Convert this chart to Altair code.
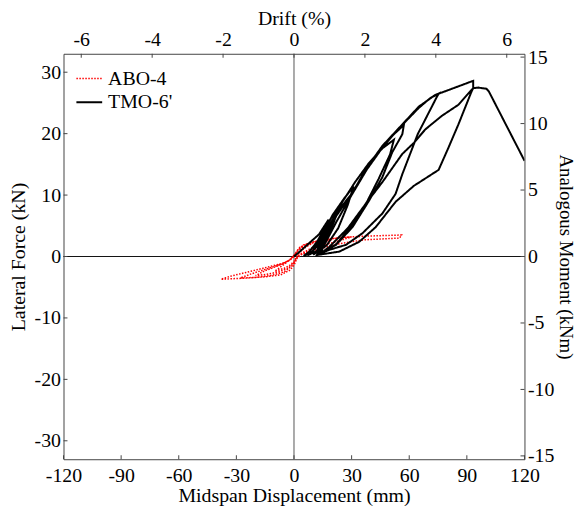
import altair as alt
import pandas as pd

# ---------------- data ----------------
series_names = ["ABO-4", "TMO-6'"]

abo_disp = [0, 2, 5, 10, 7, 4, 2, 0, -2, -5, -10, -7, -4, -2, 0,
            2, 5, 10, 15, 20, 15, 10, 5, 2, 0, -3, -8, -14, -20, -15, -9, -4, -1, 1,
            3, 8, 14, 22, 30, 24, 16, 9, 4, 1, -1, -5, -12, -20, -28, -22, -14, -6, -2, 0,
            2, 5, 13, 25, 36, 46, 56, 55, 45, 36, 22, 12, 5, 2, 0, -2, -7, -15, -24, -38,
            -33, -25, -16, -6, -2, 0]
abo_force = [0, 0.9, 1.6, 2.2, 1.7, 1.0, 0.3, -0.8, -1.4, -1.9, -2.4, -1.7, -1.0, -0.5, 0.2,
             1.1, 1.8, 2.3, 2.6, 2.8, 2.2, 1.5, 0.7, 0.1, -1.0, -1.9, -2.5, -2.9, -3.1, -2.3, -1.6, -0.9, -0.2, 0.6,
             1.5, 2.2, 2.7, 3.0, 3.2, 2.6, 1.9, 1.1, 0.4, -0.5, -1.5, -2.5, -3.1, -3.4, -3.5, -2.8, -2.0, -1.2, -0.5, 0.2,
             1.0, 1.9, 2.6, 3.1, 3.3, 3.4, 3.5, 3.0, 2.85, 2.7, 2.0, 1.1, 0.5, 0.0, -1.4, -2.2, -3.0, -3.3, -3.5, -3.7,
             -3.2, -2.6, -1.9, -1.1, -0.6, 0]

tmo_disp = [0, 3, 8, 13, 18, 16, 13, 9, 5,
            8, 12, 16, 20, 23, 21, 17, 12, 7,
            10, 15, 20, 26, 31, 28, 23, 17, 10,
            12, 18, 25, 32, 39, 46, 52, 50, 44, 38, 30, 22, 14,
            15, 22, 30, 38, 46, 52, 57.2, 56.4, 51.2, 46, 39.1, 30.5, 21.9, 13.3,
            15, 22, 30, 38, 46, 56, 65, 71, 75.3, 74.4, 64.4, 56.4, 52.9, 46, 35.7, 27.1, 18.5, 12,
            14, 21.9, 30.5, 37.4, 46, 56.4, 65, 73.5, 77, 82.2, 87.3, 93.3,
            93.3, 92.5, 85.6, 80.4, 75.3, 62.4, 52.9, 42.6, 34, 23.6, 13.2,
            18.5, 28, 37.4, 46, 56.4, 62.4, 68.4, 77, 85.6, 90.4, 93.3, 95.9, 100.2, 101.4, 120]
tmo_force = [0, 0.8, 2.2, 3.6, 6.0, 4.2, 2.0, 0.6, 0.1,
             0.8, 2.4, 4.6, 6.6, 8.0, 5.8, 3.0, 0.9, 0.2,
             1.0, 3.6, 6.7, 9.4, 11.4, 8.4, 4.6, 1.8, 0.3,
             1.0, 4.8, 8.8, 12.2, 15.2, 17.6, 19.0, 16.6, 12.6, 8.9, 5.0, 2.0, 0.5,
             1.4, 5.6, 10.0, 14.2, 17.7, 19.9, 21.4, 19.9, 17.0, 12.9, 9.1, 4.8, 1.9, 0.5,
             1.6, 6.6, 10.2, 14.4, 17.9, 21.3, 24.2, 25.8, 26.5, 26.0, 19.9, 13.4, 10.2, 7.0, 3.8, 1.9, 1.1, 0.3,
             1.5, 7.0, 10.4, 14.2, 18.0, 21.5, 24.4, 26.3, 26.7, 27.3, 27.9, 28.6,
             27.4, 26.9, 21.5, 17.7, 14.1, 11.5, 8.9, 4.8, 2.4, 0.8, 0.3,
             1.6, 4.6, 8.6, 12.1, 16.7, 18.5, 20.7, 22.9, 24.7, 26.4, 27.4, 27.5, 27.3, 26.9, 15.6]

disp_ticks = [-120, -90, -60, -30, 0, 30, 60, 90, 120]
force_ticks = [-30, -20, -10, 0, 10, 20, 30]
drift_ticks = [-6, -4, -2, 0, 2, 4, 6]
moment_ticks = [-15, -10, -5, 0, 5, 10, 15]

# ---------------- layout ----------------
W, H = 465, 409
FONT = "'Liberation Serif', 'Times New Roman', 'DejaVu Serif', serif"
FS = 20
FRAME = "#444444"
LBL = "'' + datum.value"

rows = []
for i, (d, f) in enumerate(zip(abo_disp, abo_force)):
    rows.append({"s": series_names[0], "i": i, "d": d, "f": f})
for i, (d, f) in enumerate(zip(tmo_disp, tmo_force)):
    rows.append({"s": series_names[1], "i": i, "d": d, "f": f})
df = pd.DataFrame(rows)

xs = alt.Scale(domain=[-120, 120], nice=False, zero=False)
ys = alt.Scale(domain=[-33, 33], nice=False, zero=False)
xs2 = alt.Scale(domain=[-6.5, 6.5], nice=False, zero=False)
ys2 = alt.Scale(domain=[-15.25, 15.25], nice=False, zero=False)

base_axis = dict(labelFont=FONT, labelFontSize=FS, labelColor="black",
                 titleFont=FONT, titleFontWeight="normal",
                 titleColor="black", ticks=False, tickSize=0, domain=False,
                 grid=False, labelFlush=False, labelOverlap=False, labelExpr=LBL)

x_axis = alt.Axis(orient="bottom", values=disp_ticks, labelPadding=6, titlePadding=1,
                  titleFontSize=FS, title="Midspan Displacement (mm)", **base_axis)
y_axis = alt.Axis(orient="left", values=force_ticks, labelPadding=3, titlePadding=6,
                  titleFontSize=FS, title="Lateral Force (kN)", **base_axis)
x2_axis = alt.Axis(orient="top", values=drift_ticks, labelPadding=4, titlePadding=2,
                   titleFontSize=FS, title="Drift (%)", **base_axis)
y2_axis = alt.Axis(orient="right", values=moment_ticks, labelPadding=3, titlePadding=2,
                   titleFontSize=19, title="Analogous Moment (kNm)", **base_axis)


def X(field):
    return alt.X(field, type="quantitative", scale=xs, axis=x_axis, title="Midspan Displacement (mm)")


def Y(field):
    return alt.Y(field, type="quantitative", scale=ys, axis=y_axis, title="Lateral Force (kN)")


# crosshair
vline = alt.Chart(pd.DataFrame({"d": [0]})).mark_rule(color="#555555", strokeWidth=1).encode(x=X("d"))
hline = alt.Chart(pd.DataFrame({"f": [0]})).mark_rule(color="#111111", strokeWidth=1).encode(y=Y("f"))

lines = alt.Chart(df).mark_line(clip=True, strokeJoin="miter").encode(
    x=X("d"),
    y=Y("f"),
    order="i:Q",
    color=alt.Color("s:N", scale=alt.Scale(domain=series_names, range=["#ff0000", "#000000"]),
                    title=None,
                    legend=alt.Legend(orient="none", legendX=12, legendY=11, symbolType="stroke",
                                      symbolSize=676, symbolStrokeWidth=2, labelFont=FONT,
                                      labelFontSize=FS, labelColor="black", labelOffset=5,
                                      rowPadding=0, padding=0, title=None)),
    strokeDash=alt.StrokeDash("s:N", scale=alt.Scale(domain=series_names, range=[[1.5, 1.5], [1, 0]]),
                              title=None, legend=None),
    strokeWidth=alt.StrokeWidth("s:N", scale=alt.Scale(domain=series_names, range=[1.5, 2.0]),
                                title=None, legend=None),
)

bt = alt.Chart(pd.DataFrame({"d": disp_ticks})).mark_rule(color=FRAME).encode(
    x=X("d"), y=alt.value(H - 4), y2=alt.value(H))
lt = alt.Chart(pd.DataFrame({"f": force_ticks})).mark_rule(color=FRAME).encode(
    y=Y("f"), x=alt.value(0), x2=alt.value(4))

main = alt.layer(vline, hline, bt, lt, lines)

tt = alt.Chart(pd.DataFrame({"p": drift_ticks})).mark_rule(color=FRAME).encode(
    x=alt.X("p:Q", scale=xs2, axis=x2_axis, title="Drift (%)"), y=alt.value(0), y2=alt.value(4))
rt = alt.Chart(pd.DataFrame({"m": moment_ticks})).mark_rule(color=FRAME).encode(
    y=alt.Y("m:Q", scale=ys2, axis=y2_axis, title="Analogous Moment (kNm)"),
    x=alt.value(W - 4), x2=alt.value(W))
secondary = alt.layer(tt, rt)

chart = alt.layer(main, secondary).resolve_scale(
    x="independent", y="independent"
).properties(
    width=W, height=H, autosize="none",
    padding={"left": 56, "top": 44, "right": 54, "bottom": 45},
    background="white",
).configure_view(stroke=FRAME, strokeWidth=1)

chart.save("out.html", embed_options={"renderer": "svg", "actions": False})
